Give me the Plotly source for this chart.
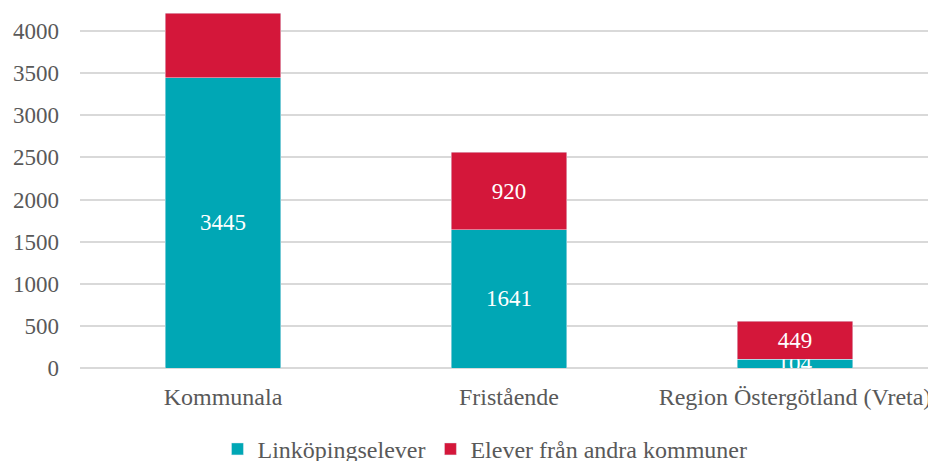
import plotly.graph_objects as go

# Elever per huvudman
categories = ["Kommunala", "Fristående", "Region Östergötland (Vreta)"]
linkoping = [3445, 1641, 104]
andra_kommuner = [769, 920, 449]
andra_labels = ["", "920", "449"]

font_family = "Liberation Serif, Times New Roman, serif"

fig = go.Figure()
fig.add_trace(go.Bar(
    x=categories, y=linkoping, name="Linköpingselever",
    marker_color="#00A7B5",
    text=[str(v) for v in linkoping], textposition="inside",
    insidetextanchor="middle",
    textfont=dict(color="white", size=23, family=font_family),
))
fig.add_trace(go.Bar(
    x=categories, y=andra_kommuner, name="Elever från andra kommuner",
    marker_color="#D4173A",
    text=andra_labels, textposition="inside",
    insidetextanchor="middle",
    textfont=dict(color="white", size=23, family=font_family),
))

# the page body adds an 8px offset, so margins are shifted to compensate
fig.update_layout(
    barmode="stack",
    bargap=0.595,
    width=936, height=461,
    margin=dict(l=72, r=6, t=5, b=101, autoexpand=False),
    plot_bgcolor="white",
    paper_bgcolor="white",
    font=dict(family=font_family, size=23, color="#595959"),
    uniformtext=dict(minsize=23, mode="show"),
    showlegend=True,
    legend=dict(
        orientation="h", x=0.472, xanchor="center",
        y=-0.229, yanchor="middle",
        font=dict(size=24, color="#595959"),
        traceorder="normal", itemwidth=30,
    ),
)
fig.update_yaxes(
    range=[0, 4214], tickvals=list(range(0, 4001, 500)),
    showgrid=True, gridcolor="#d9d9d9", gridwidth=1.5,
    zeroline=True, zerolinecolor="#d9d9d9", zerolinewidth=1.5,
    ticks="", ticklabelstandoff=20, automargin=False,
)
fig.update_xaxes(showgrid=False, ticks="", showline=False,
                 tickfont=dict(size=24),
                 ticklabelstandoff=12, automargin=False)

fig.write_html("out.html")
